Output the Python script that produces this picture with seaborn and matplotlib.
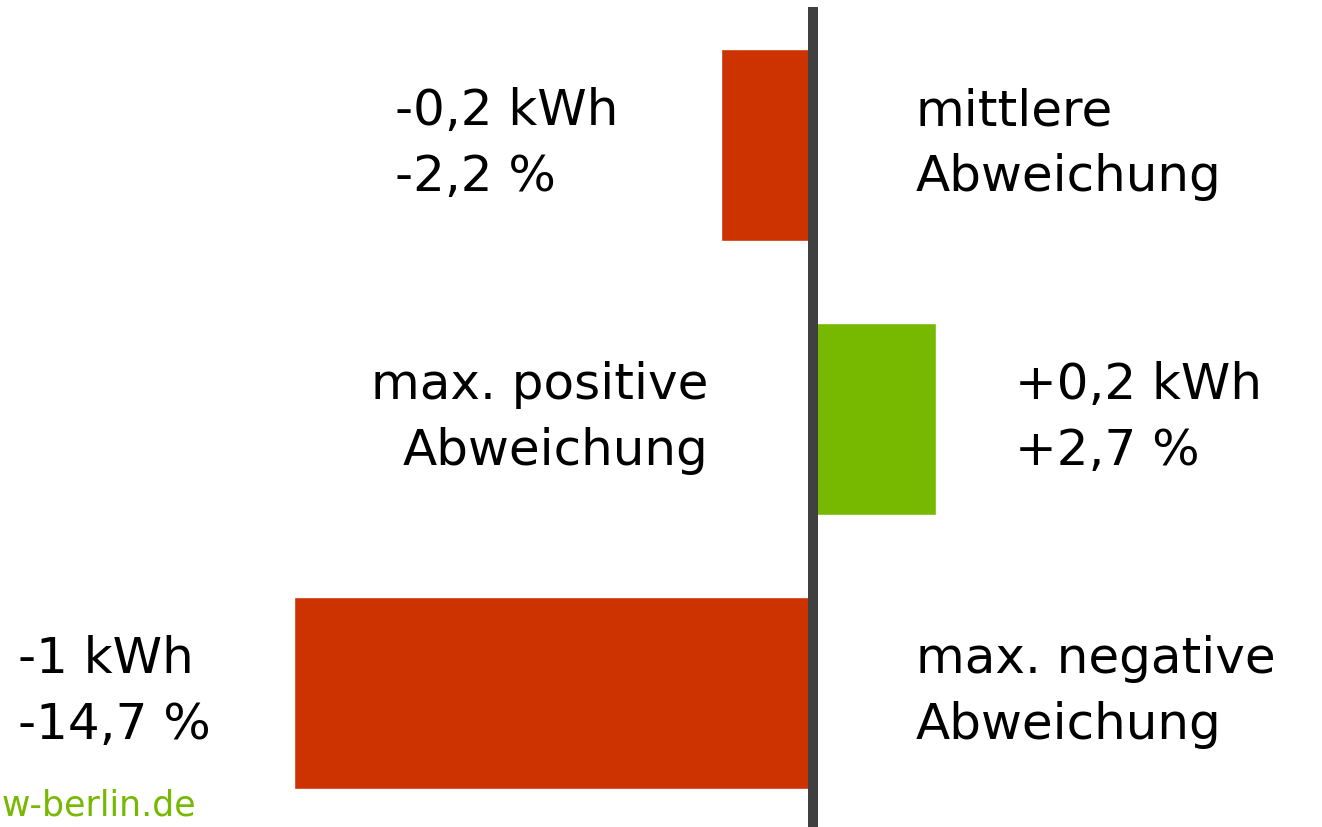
import matplotlib
matplotlib.use("Agg")
import matplotlib.pyplot as plt
import seaborn as sns

# Abweichung in kWh (Balkenlänge), Beschriftungen wie im Original
categories = ["mittlere Abweichung", "max. positive Abweichung", "max. negative Abweichung"]
values_kwh = [-0.177, 0.237, -1.0]
bar_colors = ["#cc3300", "#77b800", "#cc3300"]
value_labels = ["-0,2 kWh\n-2,2 %", "+0,2 kWh\n+2,7 %", "-1 kWh\n-14,7 %"]
name_labels = ["mittlere\nAbweichung", "max. positive\nAbweichung", "max. negative\nAbweichung"]
footer = "w-berlin.de"

sns.set_style("white")
plt.rcParams['font.family'] = ['DejaVu Sans']

fig = plt.figure(figsize=(13.22, 8.28), dpi=100)
ax = fig.add_axes([0, 0, 1, 1])

sns.barplot(x=values_kwh, y=categories, hue=categories, palette=bar_colors,
            orient="h", width=0.7, saturation=1, legend=False, ax=ax)

ax.set_xlim(-1.566, 0.981)
ax.set_ylim(2.489, -0.533)
ax.axis("off")

# Nulllinie
ax.axvline(0, ymin=0, ymax=0.99, color="#404040", lw=7.2, zorder=5,
           solid_capstyle="butt")

fs = 36
ls = 1.45
txt = dict(fontsize=fs, linespacing=ls, color="black", va="center",
           transform=ax.transAxes)
# Zeile 0
ax.text(395 / 1322, 1 - 144 / 828, value_labels[0], ha="left", **txt)
ax.text(916 / 1322, 1 - 144 / 828, name_labels[0], ha="left", **txt)
# Zeile 1
ax.text(708 / 1322, 1 - 418 / 828, name_labels[1], ha="right",
        multialignment="right", **txt)
ax.text(1015 / 1322, 1 - 418 / 828, value_labels[1], ha="left", **txt)
# Zeile 2
ax.text(18 / 1322, 1 - 692 / 828, value_labels[2], ha="left", **txt)
ax.text(916 / 1322, 1 - 692 / 828, name_labels[2], ha="left", **txt)

ax.text(2 / 1322, 1 - 806 / 828, footer, transform=ax.transAxes,
        ha="left", va="center", fontsize=25, color="#77b800")

fig.savefig("out.png", dpi=100)
